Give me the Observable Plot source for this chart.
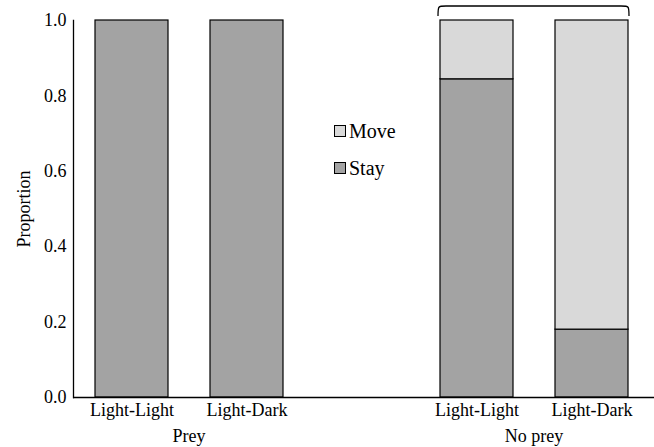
<!DOCTYPE html>
<html>
<head>
<meta charset="utf-8">
<script src="https://cdn.jsdelivr.net/npm/d3@7"></script>
<script src="https://cdn.jsdelivr.net/npm/@observablehq/plot@0.6"></script>
<style>
  body { margin: 0; background: #fff; }
  #wrap { position: relative; width: 654px; height: 447px; font-family: "Liberation Serif", "Times New Roman", serif; }
  .legend { position: absolute; left: 334px; font-size: 20px; line-height: 1; display: flex; align-items: center; }
  .sw { width: 12px; height: 12px; border: 1px solid #000; margin-right: 3px; box-sizing: border-box; }
</style>
</head>
<body>
<div id="wrap"></div>
<script>
// ---- data ----
const groups = ["Prey", "No prey"];
const categories = ["Light-Light", "Light-Dark"];
const responses = ["Stay", "Move"];
const stayValues = [1.0, 1.0, 0.844, 0.18];   // Prey LL, Prey LD, No prey LL, No prey LD
const moveValues = [0.0, 0.0, 0.156, 0.82];
const yTicks = [0, 0.2, 0.4, 0.6, 0.8, 1.0];
const colors = ["#a3a3a3", "#d9d9d9"];

// slot keys (with an empty slot between the two groups)
const keys = [
  groups[0] + "|" + categories[0], groups[0] + "|" + categories[1],
  "gap",
  groups[1] + "|" + categories[0], groups[1] + "|" + categories[1]
];
const barKeys = keys.filter(k => k !== "gap");

const rows = [];
responses.forEach(r => {
  const vals = r === "Stay" ? stayValues : moveValues;
  barKeys.forEach((k, i) => rows.push({key: k, response: r, value: vals[i]}));
});

const PAD_IN = 0.368;

function decorations(index, scales, values, dims) {
  const x = scales.x, y = scales.y;
  const step = x(keys[1]) - x(keys[0]);
  let bw = x.bandwidth;
  if (typeof bw === "function") bw = bw();
  if (typeof bw !== "number" || !isFinite(bw)) bw = step * (1 - PAD_IN);
  const g = d3.create("svg:g");
  // group labels
  groups.forEach(gr => {
    const a = x(gr + "|" + categories[0]);
    const b = x(gr + "|" + categories[1]) + bw;
    g.append("text")
      .attr("x", (a + b) / 2)
      .attr("y", dims.height - 5)
      .attr("text-anchor", "middle")
      .attr("font-size", 18)
      .attr("fill", "#000")
      .text(gr);
  });
  // bracket over the No prey group
  const x1 = x(groups[1] + "|" + categories[0]) - 2;
  const x2 = x(groups[1] + "|" + categories[1]) + bw + 1;
  const yt = y(1) - 14, yb = y(1) - 4, r = 8;
  g.append("path")
    .attr("d", `M${x1},${yb} C${x1},${yt} ${x1},${yt} ${x1 + r},${yt} L${x2 - r},${yt} C${x2},${yt} ${x2},${yt} ${x2},${yb}`)
    .attr("fill", "none")
    .attr("stroke", "#000")
    .attr("stroke-width", 1.3);
  return g.node();
}

const chart = Plot.plot({
  width: 654,
  height: 447,
  marginLeft: 73,
  marginRight: 0,
  marginTop: 20,
  marginBottom: 50,
  style: { fontFamily: "'Liberation Serif', 'Times New Roman', serif", fontSize: "18px", color: "#000", background: "#fff" },
  x: { domain: keys, range: [73, 650], paddingInner: PAD_IN, paddingOuter: PAD_IN / 2 },
  y: { domain: [0, 1] },
  color: { domain: responses, range: colors },
  marks: [
    Plot.barY(rows.filter(d => d.value > 0), {
      x: "key", y: "value", fill: "response", stroke: "#000", strokeWidth: 1.2
    }),
    Plot.axisY({
      ticks: yTicks, tickFormat: d3.format(".1f"), tickSize: 0, tickPadding: 7,
      label: "Proportion", labelAnchor: "center", labelArrow: "none", labelOffset: 56, fontSize: 18
    }),
    Plot.axisX({
      tickSize: 0, tickPadding: 6, label: null, fontSize: 18,
      tickFormat: k => k === "gap" ? "" : k.split("|")[1]
    }),
    Plot.ruleY([0], { stroke: "#000", strokeWidth: 1.3 }),
    Plot.frame({ anchor: "left", stroke: "#000", strokeWidth: 1.3 }),
    decorations
  ]
});

const wrap = document.getElementById("wrap");
wrap.appendChild(chart);

// legend (top entry = Move, bottom = Stay)
[["Move", colors[1], 121], ["Stay", colors[0], 158]].forEach(([label, c, top]) => {
  const d = document.createElement("div");
  d.className = "legend";
  d.style.top = top + "px";
  d.innerHTML = `<span class="sw" style="background:${c}"></span><span>${label}</span>`;
  wrap.appendChild(d);
});
</script>
</body>
</html>
